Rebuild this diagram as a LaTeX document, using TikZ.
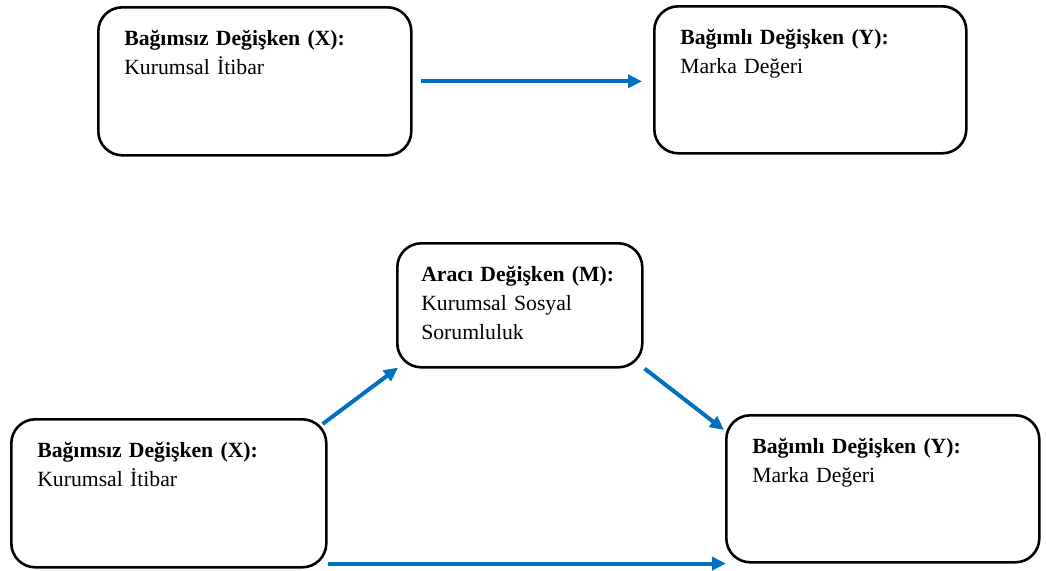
\documentclass[tikz,border=0pt]{standalone}
\usepackage{fontspec}
\setmainfont{Liberation Serif}
\usetikzlibrary{arrows.meta}
\definecolor{arrowblue}{RGB}{0,112,192}
\begin{document}
\begin{tikzpicture}[x=1pt,y=-1pt,
  varbox/.style={draw=black, line width=2.6pt, rounded corners=24pt,
    anchor=north west, inner xsep=26pt, inner ysep=0pt, align=left,
    text height=38pt, font=\fontsize{21.7}{29}\selectfont},
  link/.style={draw=arrowblue, line width=4pt,
    -{Triangle[length=14pt,width=13pt]}}]
\useasboundingbox (0,0) rectangle (1046,570);

% simple model: X -> Y
\node[varbox, minimum width=313pt, minimum height=148pt, text width=261pt, text depth=110pt]
  (b1) at (97,6) {\textbf{Bağımsız Değişken (X):}\\Kurumsal İtibar};
\node[varbox, minimum width=312pt, minimum height=147pt, text width=260pt, text depth=109pt]
  (b2) at (653,5) {\textbf{Bağımlı Değişken (Y):}\\Marka Değeri};
\draw[link] ([xshift=8pt]b1.east) -- ([xshift=-11pt]b2.west |- b1.east);

% mediation model: X -> M -> Y
\node[varbox, inner xsep=24pt, minimum width=245pt, minimum height=124pt, text width=197pt, text depth=86pt]
  (m) at (396,242) {\textbf{Aracı Değişken (M):}\\Kurumsal Sosyal\\Sorumluluk};
\node[varbox, minimum width=315pt, minimum height=148pt, text width=263pt, text depth=110pt]
  (x2) at (10,418) {\textbf{Bağımsız Değişken (X):}\\Kurumsal İtibar};
\node[varbox, minimum width=313pt, minimum height=147pt, text width=261pt, text depth=109pt]
  (y2) at (725,414) {\textbf{Bağımlı Değişken (Y):}\\Marka Değeri};

\draw[link] ([shift={(-5,6)}]x2.north east) -- ([shift={(2,-1)}]m.south west);
\draw[link] ([shift={(1,0)}]m.south east) -- ([shift={(-1,16)}]y2.north west);
\draw[link] ([yshift=5pt]x2.south east) -- ([yshift=5pt,xshift=1pt]x2.south east -| y2.west);
\end{tikzpicture}
\end{document}
